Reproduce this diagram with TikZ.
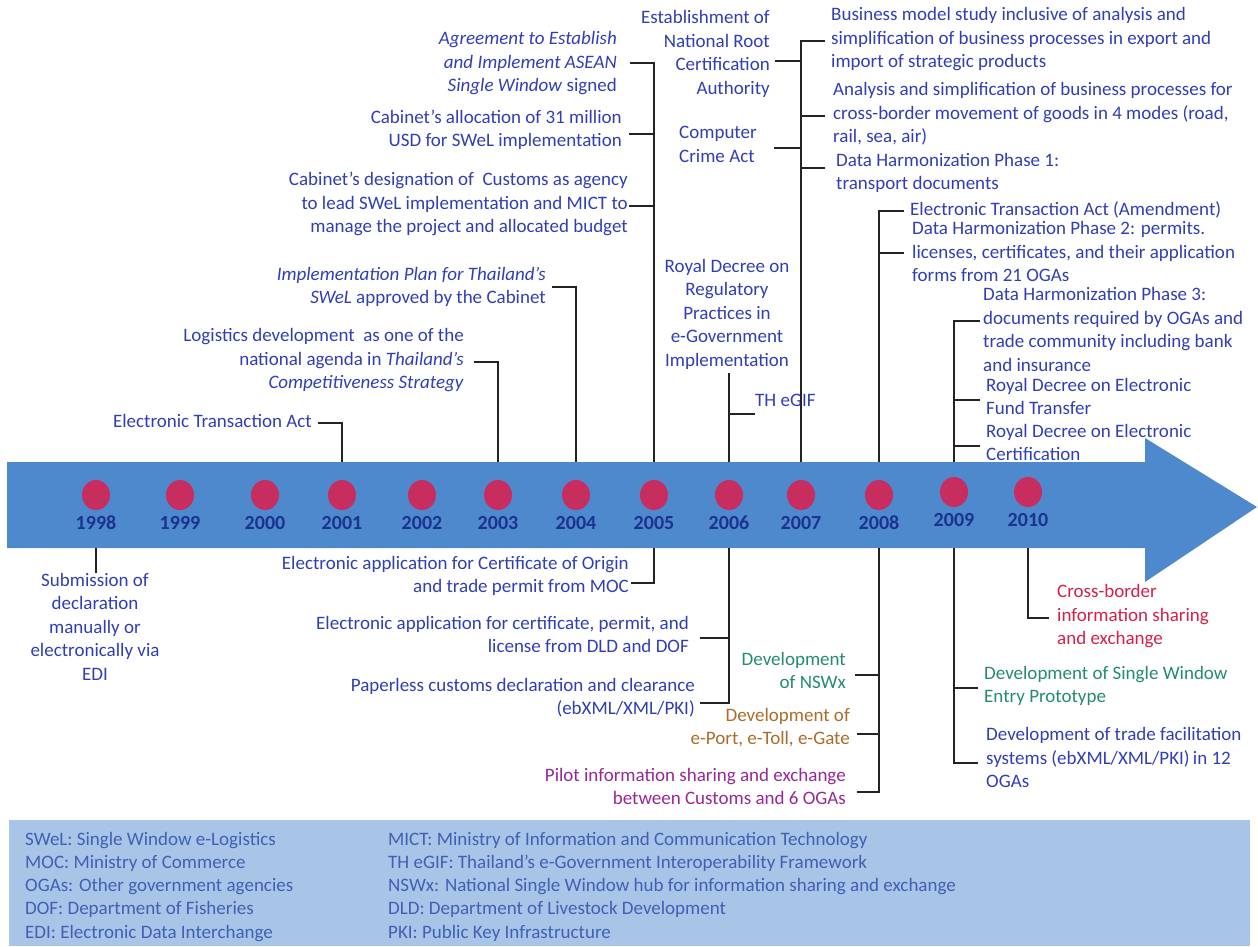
\documentclass[tikz,border=0pt]{standalone}
\usepackage{fontspec}
\setmainfont{Carlito}
\usetikzlibrary{shapes.geometric}
\definecolor{bandblue}{RGB}{77,137,204}
\definecolor{dotred}{RGB}{200,45,95}
\definecolor{yearblue}{RGB}{28,50,145}
\definecolor{txtblue}{RGB}{48,62,182}
\definecolor{txtgreen}{RGB}{35,140,108}
\definecolor{txtbrown}{RGB}{170,108,40}
\definecolor{txtpurple}{RGB}{150,40,150}
\definecolor{txtred}{RGB}{212,32,72}
\definecolor{legfill}{RGB}{168,197,232}
\definecolor{legtext}{RGB}{65,95,180}
\definecolor{linkgray}{RGB}{35,35,35}
\tikzset{
  lbl/.style={font=\fontsize{19}{23.5}\selectfont, text=txtblue, inner sep=0pt,
    execute at begin node=\strut, execute at end node=\strut},
  lr/.style={lbl, align=right, anchor=east},
  ll/.style={lbl, align=left, anchor=west},
  lc/.style={lbl, align=center},
  link/.style={draw=linkgray, line width=2pt},
  yearlbl/.style={font=\fontsize{20}{24}\selectfont\bfseries, text=yearblue, inner sep=0pt},
  yeardot/.style={ellipse, fill=dotred, minimum width=28pt, minimum height=30pt, inner sep=0pt},
  legend/.style={font=\fontsize{19}{23.3}\selectfont, text=legtext, inner sep=0pt,
    align=left, anchor=west, execute at begin node=\strut, execute at end node=\strut}
}
\begin{document}
\begin{tikzpicture}[x=1pt,y=-1pt]
\useasboundingbox (0,0) rectangle (1258,947);

% timeline arrow
\fill[bandblue] (7,462) -- (1145,462) -- (1145,438) -- (1257,507) -- (1145,582)
  -- (1145,548) -- (7,548) -- cycle;

% years: dot, label, and attachment points on the band edges
\foreach \yr/\x/\dy in {1998/96/0,1999/180/0,2000/265/0,2001/342/0,2002/422/0,
  2003/498/0,2004/576/0,2005/654/0,2006/729/0,2007/801/0,2008/879/0,2009/954/-3,2010/1028/-3}{
  \node[yeardot] (d\yr) at (\x,495+\dy) {};
  \node[yearlbl] (y\yr) at (\x,523+\dy) {\yr};
  \coordinate (t\yr) at (\x,462);
  \coordinate (b\yr) at (\x,548);
}

% events above the timeline
\node[lr] (et01) at (312,423) {Electronic Transaction Act};
\node[lr] (logi) at (464,362) {Logistics development~ as one of the\\national agenda in \textit{Thailand’s}\\\textit{Competitiveness Strategy}};
\node[lr] (impl) at (546,289) {\textit{Implementation Plan for Thailand’s}\\\textit{SWeL} approved by the Cabinet};
\node[lr] (asean) at (617,65) {\textit{Agreement to Establish}\\\textit{and Implement ASEAN}\\\textit{Single Window} signed};
\node[lr] (alloc) at (622,132) {Cabinet’s allocation of 31 million\\USD for SWeL implementation};
\node[lr] (desig) at (628,206) {Cabinet’s designation of~ Customs as agency\\to lead SWeL implementation and MICT to\\manage the project and allocated budget};
\node[lr] (root) at (770,56) {Establishment of\\National Root\\Certification\\Authority};
\node[ll] (crime) at (679,148) {Computer\\Crime Act};
\node[lc] (rdreg) at (727,316) {Royal Decree on\\Regulatory\\Practices in\\e-Government\\Implementation};
\node[ll] (tgif) at (755,402) {TH eGIF};
\node[ll] (bms) at (831,41) {Business model study inclusive of analysis and\\simplification of business processes in export and\\import of strategic products};
\node[ll] (anl) at (833,116) {Analysis and simplification of business processes for\\cross-border movement of goods in 4 modes (road,\\rail, sea, air)};
\node[ll] (dh1) at (836,175) {Data Harmonization Phase 1:\\transport documents};
\node[ll] (eta) at (910,211) {Electronic Transaction Act (Amendment)};
\node[ll] (dh2) at (912,255) {Data Harmonization Phase 2: permits.\\licenses, certificates, and their application\\forms from 21 OGAs};
\node[ll] (dh3) at (983,333) {Data Harmonization Phase 3:\\documents required by OGAs and\\trade community including bank\\and insurance};
\node[ll] (rdeft) at (986,400) {Royal Decree on Electronic\\Fund Transfer};
\node[ll] (rdcert) at (986,446) {Royal Decree on Electronic\\Certification};

% events below the timeline
\node[lc] (subm) at (95,630) {Submission of\\declaration\\manually or\\electronically via\\EDI};
\node[lr] (coo) at (629,578) {Electronic application for Certificate of Origin\\and trade permit from MOC};
\node[lr] (dldf) at (689,638) {Electronic application for certificate, permit, and\\license from DLD and DOF};
\node[lr] (paper) at (695,700) {Paperless customs declaration and clearance\\(ebXML/XML/PKI)};
\node[lr, text=txtgreen] (nswx) at (846,674) {Development\\of NSWx};
\node[lr, text=txtbrown] (eport) at (850,730) {Development of\\e-Port, e-Toll, e-Gate};
\node[lr, text=txtpurple] (pilot) at (846,790) {Pilot information sharing and exchange\\between Customs and 6 OGAs};
\node[ll, text=txtgreen] (swep) at (984,688) {Development of Single Window\\Entry Prototype};
\node[ll] (tfs) at (986,761) {Development of trade facilitation\\systems (ebXML/XML/PKI)\,in 12\\OGAs};
\node[ll, text=txtred] (cbx) at (1057,618) {Cross-border\\information sharing\\and exchange};

% connectors, upper side
\draw[link] ([xshift=6pt]et01.east) -| (t2001);
\draw[link] ([xshift=10pt]logi.east) -| (t2003);
\draw[link] ([xshift=6pt,yshift=2pt]impl.east) -| (t2004);
\draw[link] ([xshift=13pt,yshift=2pt]asean.east) -| (t2005);
\draw[link] ([xshift=7pt,yshift=-2pt]alloc.east) -| (t2005);
\draw[link] ([xshift=1pt]desig.east) -| (t2005);
\draw[link] (rdreg.south -| t2006) -- (t2006);
\draw[link] (tgif.south west) -| (t2006);
\draw[link] ([xshift=5pt,yshift=-5pt]root.east) -| (t2007);
\draw[link] ([xshift=17pt]crime.east) -| (t2007);
\draw[link] ([xshift=-6pt]bms.west) -| (t2007);
\draw[link] ([xshift=-8pt]anl.west) -| (t2007);
\draw[link] ([xshift=-11pt,yshift=7pt]dh1.west) -| (t2007);
\draw[link] ([xshift=-6pt]eta.west) -| (t2008);
\draw[link] ([xshift=-8pt,yshift=2pt]dh2.west) -| (t2008);
\draw[link] ([xshift=-3pt,yshift=12pt]dh3.west) -| (t2009);
\draw[link] ([xshift=-6pt]rdeft.west) -| (t2009);
\draw[link] ([xshift=-6pt]rdcert.west) -| (t2009);

% connectors, lower side
\draw[link] (b1998) -- (subm.north -| b1998);
\draw[link] ([xshift=2pt,yshift=-5pt]coo.east) -| (b2005);
\draw[link] ([xshift=11pt]dldf.east) -| (b2006);
\draw[link] ([xshift=5pt,yshift=-3pt]paper.east) -| (b2006);
\draw[link] ([xshift=9pt,yshift=-1pt]nswx.east) -| (b2008);
\draw[link] ([xshift=7pt,yshift=-4pt]eport.east) -| (b2008);
\draw[link] ([xshift=11pt,yshift=-2pt]pilot.east) -| (b2008);
\draw[link] ([xshift=-6pt]swep.west) -| (b2009);
\draw[link] ([xshift=-8pt,yshift=-2pt]tfs.west) -| (b2009);
\draw[link] ([xshift=-8pt]cbx.west) -| (b2010);

% abbreviations
\fill[legfill] (9,820) rectangle (1250,946);
\node[legend] (legl) at (25,888.5) {SWeL: Single Window e-Logistics\\MOC: Ministry of Commerce\\OGAs: Other government agencies\\DOF: Department of Fisheries\\EDI: Electronic Data Interchange};
\node[legend] (legr) at (388,888.5) {MICT: Ministry of Information and Communication Technology\\TH eGIF: Thailand’s e-Government Interoperability Framework\\NSWx: National Single Window hub for information sharing and exchange\\DLD: Department of Livestock Development\\PKI: Public Key Infrastructure};
\end{tikzpicture}
\end{document}
